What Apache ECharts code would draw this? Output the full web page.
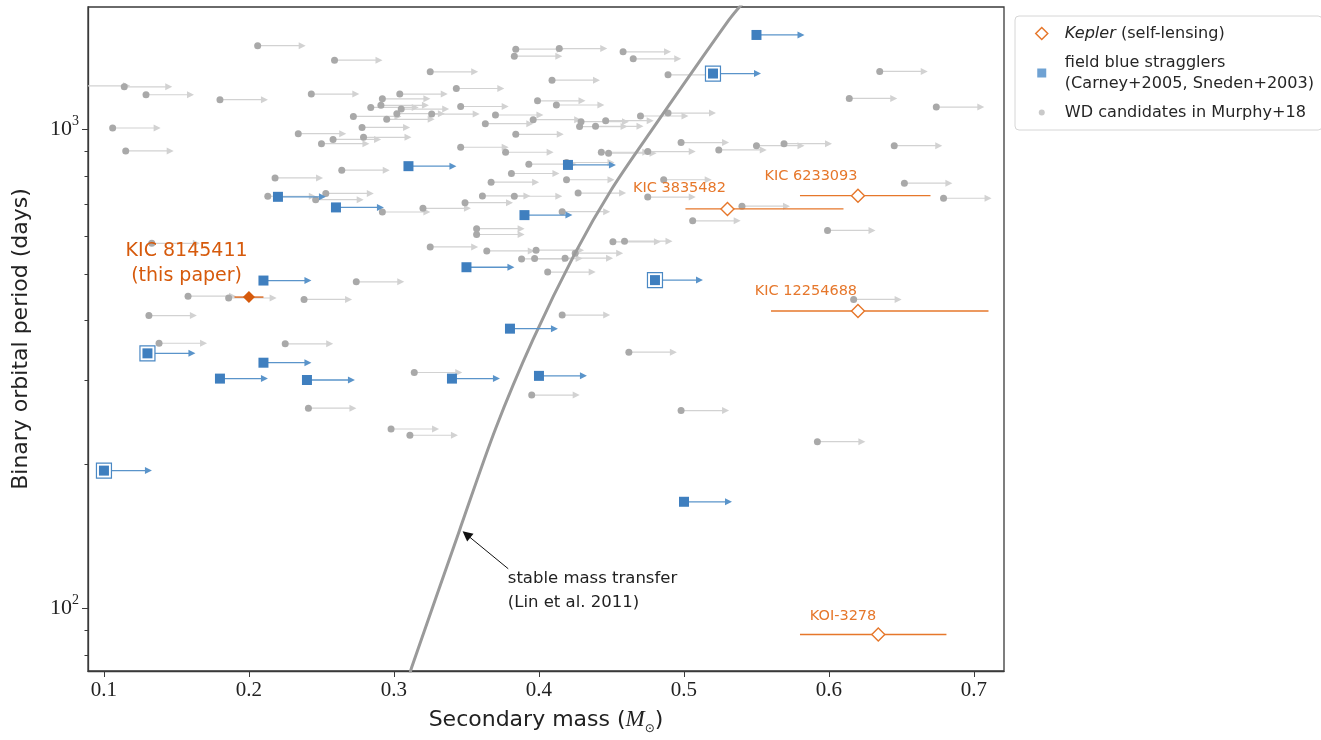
<!DOCTYPE html>
<html>
<head>
<meta charset="utf-8">
<script src="https://cdn.jsdelivr.net/npm/echarts@6/dist/echarts.min.js"></script>
<style>
html, body { margin: 0; padding: 0; background: #fff; }
#chart { width: 1321px; height: 740px; }
</style>
</head>
<body>
<div id="chart"></div>
<script>
// WD candidates in Murphy+18 (mass is a lower limit, hence the arrows)
var wdMass = [0.085, 0.106, 0.114, 0.115, 0.129, 0.131, 0.133, 0.138, 0.158, 0.180,
    0.186, 0.206, 0.213, 0.218, 0.225, 0.234, 0.238, 0.241, 0.243, 0.246,
    0.250, 0.253, 0.258, 0.259, 0.264, 0.272, 0.274, 0.278, 0.279, 0.284,
    0.291, 0.292, 0.292, 0.295, 0.298, 0.302, 0.304, 0.305, 0.311, 0.314,
    0.320, 0.325, 0.325, 0.326, 0.343, 0.346, 0.346, 0.349, 0.357, 0.357,
    0.361, 0.363, 0.364, 0.367, 0.370, 0.377, 0.381, 0.383, 0.383, 0.384,
    0.384, 0.388, 0.393, 0.395, 0.396, 0.397, 0.398, 0.399, 0.406, 0.409,
    0.412, 0.414, 0.416, 0.416, 0.418, 0.419, 0.419, 0.425, 0.427, 0.428,
    0.429, 0.439, 0.443, 0.446, 0.448, 0.451, 0.458, 0.459, 0.462, 0.465,
    0.470, 0.475, 0.475, 0.486, 0.489, 0.489, 0.498, 0.498, 0.506, 0.524,
    0.540, 0.550, 0.569, 0.592, 0.599, 0.614, 0.617, 0.635, 0.645, 0.652,
    0.674, 0.679];
var wdPeriod = [1235, 1008, 1229, 903, 1183, 409, 579, 358, 449, 1155,
    445, 1498, 726, 793, 357, 981, 442, 262, 1187, 714,
    935, 736, 954, 1397, 823, 1066, 481, 1011, 964, 1113,
    1124, 673, 1160, 1051, 237, 1080, 1187, 1104, 230, 311,
    685, 569, 1321, 1078, 1219, 1118, 919, 704, 621, 604,
    727, 1029, 558, 777, 1073, 897, 810, 1424, 726, 978,
    1473, 537, 847, 279, 1049, 538, 560, 1149, 504, 1269,
    1126, 1477, 674, 410, 539, 854, 786, 552, 737, 1015,
    1039, 1016, 897, 1044, 893, 583, 1454, 585, 343, 1406,
    1068, 723, 900, 786, 1302, 1083, 940, 259, 645, 907,
    692, 926, 935, 223, 616, 1162, 442, 1323, 926, 773,
    1115, 719];

// field blue stragglers (Carney+2005, Sneden+2003)
var bsMass = [0.55, 0.52, 0.31, 0.42, 0.22, 0.26, 0.39, 0.35, 0.21, 0.48,
    0.38, 0.13, 0.21, 0.18, 0.24, 0.34, 0.40, 0.10, 0.50];
var bsPeriod = [1577, 1310, 839, 844, 724, 688, 663, 516, 484, 485,
    384, 341, 326, 302, 300, 302, 306, 194, 167];
var bsBoxed = [0, 1, 0, 0, 0, 0, 0, 0, 0, 1, 0, 1, 0, 0, 0, 0, 0, 1, 0];

// Kepler self-lensing binaries
var kepName = ['KIC 3835482', 'KIC 6233093', 'KIC 12254688', 'KOI-3278'];
var kepMass = [0.53, 0.62, 0.62, 0.634];
var kepMassLo = [0.501, 0.580, 0.560, 0.580];
var kepMassHi = [0.610, 0.670, 0.710, 0.681];
var kepPeriod = [683, 728, 418, 88.2];

// this paper
var newName = 'KIC 8145411';
var newMass = [0.20];
var newMassLo = [0.19];
var newMassHi = [0.21];
var newPeriod = [447];

// stable mass transfer relation (Lin et al. 2011)
var linMass = [0.540, 0.531, 0.478, 0.450, 0.425, 0.396, 0.370, 0.345, 0.312, 0.311];
var linPeriod = [1830, 1695, 1000, 750, 553, 365, 237, 145, 75, 73];

var xTicks = [0.1, 0.2, 0.3, 0.4, 0.5, 0.6, 0.7];
var yMajor = [100, 1000];
var yMinor = [80, 90, 200, 300, 400, 500, 600, 700, 800, 900];

var KEP = 'Kepler (self-lensing)';
var BS = 'field blue stragglers\n(Carney+2005, Sneden+2003)';
var WD = 'WD candidates in Murphy+18';

var orange = '#e6772b';
var darkOrange = '#d65a0c';
var blue = '#3f7fbf';
var sans = 'DejaVu Sans';
var serif = 'Liberation Serif';

// text placed in data coordinates
var notes = [
    { text: 'KIC 8145411\n(this paper)', at: [0.157, 525], color: darkOrange, size: 19, lh: 25 },
    { text: kepName[0], at: [0.4969, 754], color: orange, size: 14.5, lh: 18 },
    { text: kepName[1], at: [0.5876, 798], color: orange, size: 14.5, lh: 18 },
    { text: kepName[2], at: [0.5841, 460], color: orange, size: 14.5, lh: 18 },
    { text: kepName[3], at: [0.6097, 96.2], color: orange, size: 14.5, lh: 18 },
    { text: 'stable mass transfer\n(Lin et al. 2011)', at: [0.3785, 109], color: '#222', size: 16.5, lh: 24, left: true }
];

function pairs(a, b) {
    var out = [];
    for (var i = 0; i < a.length; i++) out.push([a[i], b[i]]);
    return out;
}

function arrowRenderer(color, lw) {
    return function (params, api) {
        var p = api.coord([api.value(0), api.value(1)]);
        var cs = params.coordSys;
        var tip = p[0] + 48, hl = 7, hw = 3.5;
        if (tip < cs.x) return null;
        var x0 = Math.max(p[0], cs.x);
        return {
            type: 'group',
            children: [
                { type: 'line', shape: { x1: x0, y1: p[1], x2: tip - hl + 1, y2: p[1] },
                  style: { stroke: color, lineWidth: lw } },
                { type: 'polygon', shape: { points: [[tip, p[1]], [tip - hl, p[1] - hw], [tip - hl, p[1] + hw]] },
                  style: { fill: color } }
            ]
        };
    };
}

function errRenderer(color) {
    return function (params, api) {
        var a = api.coord([api.value(2), api.value(1)]);
        var b = api.coord([api.value(3), api.value(1)]);
        return { type: 'line', shape: { x1: a[0], y1: a[1], x2: b[0], y2: b[1] },
                 style: { stroke: color, lineWidth: 1.3 } };
    };
}

var kepData = [];
for (var i = 0; i < kepMass.length; i++) kepData.push([kepMass[i], kepPeriod[i], kepMassLo[i], kepMassHi[i]]);
var newData = [[newMass[0], newPeriod[0], newMassLo[0], newMassHi[0]]];

var boxed = [];
for (var j = 0; j < bsMass.length; j++) if (bsBoxed[j]) boxed.push([bsMass[j], bsPeriod[j]]);

var chart = echarts.init(document.getElementById('chart'));

var option = {
    animation: false,
    backgroundColor: '#fff',
    grid: { left: 88, top: 7, width: 916, height: 666, show: true, borderColor: '#3a3a3a', borderWidth: 1.3, backgroundColor: 'transparent' },
    legend: {
        orient: 'vertical',
        left: 1015, top: 16,
        padding: [7, 8, 7, 8],
        itemGap: 8,
        itemWidth: 36, itemHeight: 14,
        borderColor: '#d6d6d6', borderWidth: 1, borderRadius: 4,
        backgroundColor: 'rgba(255,255,255,0.85)',
        selectedMode: false,
        textStyle: { fontFamily: sans, fontSize: 16.1, lineHeight: 21, color: '#262626',
            rich: { i: { fontFamily: sans, fontSize: 16.1, lineHeight: 21, fontStyle: 'italic', color: '#262626' } } },
        formatter: function (name) { return name === KEP ? '{i|Kepler} (self-lensing)' : name; },
        data: [
            { name: KEP, icon: 'path://M0,0M36,14M18,1L24,7L18,13L12,7Z',
              itemStyle: { color: '#fff', borderColor: orange, borderWidth: 1.5 } },
            { name: BS, icon: 'path://M0,0M36,14M13.5,2.5H22.5V11.5H13.5Z', itemStyle: { color: '#6fa2d3' } },
            { name: WD, icon: 'path://M0,0M36,14M21,7A3,3,0,1,1,15,7A3,3,0,1,1,21,7Z', itemStyle: { color: '#c9c9c9' } }
        ]
    },
    xAxis: {
        type: 'value', min: 0.089, max: 0.7207,
        name: '{n|Secondary mass (}{m|M}{o|⊙}{n|)}',
        nameLocation: 'middle', nameGap: 34,
        nameTextStyle: { rich: {
            n: { fontFamily: sans, fontSize: 22, color: '#222' },
            m: { fontFamily: serif, fontStyle: 'italic', fontSize: 23, color: '#222' },
            o: { fontFamily: sans, fontSize: 12, color: '#222', verticalAlign: 'bottom', lineHeight: 30 }
        } },
        splitLine: { show: false },
        axisLine: { show: true, lineStyle: { color: '#3a3a3a', width: 1.3 } },
        axisTick: { show: true, customValues: xTicks, length: 6, lineStyle: { color: '#3a3a3a' } },
        axisLabel: { customValues: xTicks, fontFamily: serif, fontSize: 21, color: '#222', margin: 9,
            formatter: function (v) { return v.toFixed(1); } }
    },
    yAxis: [{
        type: 'log', logBase: 10, min: 74, max: 1804,
        name: 'Binary orbital period (days)',
        nameLocation: 'middle', nameGap: 56,
        nameTextStyle: { fontFamily: sans, fontSize: 22, color: '#222' },
        splitLine: { show: false },
        axisLine: { show: true, lineStyle: { color: '#3a3a3a', width: 1.3 } },
        axisTick: { show: true, customValues: yMajor, length: 6, lineStyle: { color: '#3a3a3a' } },
        axisLabel: { customValues: yMajor, margin: 9,
            formatter: function (v) { return '{b|10}{s|' + Math.round(Math.log10(v)) + '}'; },
            rich: {
                b: { fontFamily: serif, fontSize: 22, lineHeight: 30, color: '#222' },
                s: { fontFamily: serif, fontSize: 14, lineHeight: 14, color: '#222', verticalAlign: 'top' }
            } }
    }, {
        type: 'log', logBase: 10, min: 74, max: 1804, position: 'left',
        splitLine: { show: false },
        axisLine: { show: false },
        axisLabel: { show: false },
        axisTick: { show: true, customValues: yMinor, length: 3.5, lineStyle: { color: '#3a3a3a' } }
    }],
    series: [
        { type: 'custom', name: 'wd-arrows', z: 1, renderItem: arrowRenderer('#d2d2d2', 1.2),
          data: pairs(wdMass, wdPeriod), silent: true },
        { type: 'scatter', name: WD, z: 2, symbol: 'circle', symbolSize: 7,
          itemStyle: { color: '#a9a9a9', opacity: 1 }, data: pairs(wdMass, wdPeriod) },
        { type: 'line', name: 'lin', z: 3, showSymbol: false, smooth: 0.3,
          lineStyle: { color: '#9a9a9a', width: 3 }, data: pairs(linMass, linPeriod),
          markLine: { silent: true, symbol: ['none', 'triangle'], symbolSize: 10,
              label: { show: false },
              lineStyle: { color: '#111', width: 1, type: 'solid' },
              data: [[{ coord: [0.3788, 121] }, { coord: [0.3500, 142.7] }]] } },
        { type: 'custom', name: 'bs-arrows', z: 4, renderItem: arrowRenderer('#5a94ca', 1.3),
          data: pairs(bsMass, bsPeriod), silent: true },
        { type: 'scatter', name: 'bs-box', z: 5, symbol: 'rect', symbolSize: 15,
          itemStyle: { color: '#fff', borderColor: '#4a88c4', borderWidth: 1.2, opacity: 1 }, data: boxed },
        { type: 'scatter', name: BS, z: 6, symbol: 'rect', symbolSize: 10,
          itemStyle: { color: blue, opacity: 1 }, data: pairs(bsMass, bsPeriod) },
        { type: 'custom', name: 'kep-err', z: 7, renderItem: errRenderer(orange), data: kepData, silent: true },
        { type: 'scatter', name: KEP, z: 8, symbol: 'diamond', symbolSize: 13,
          itemStyle: { color: '#fff', borderColor: orange, borderWidth: 1.4, opacity: 1 }, data: kepData },
        { type: 'custom', name: 'new-err', z: 7, renderItem: errRenderer(darkOrange), data: newData, silent: true },
        { type: 'scatter', name: newName, z: 8, symbol: 'diamond', symbolSize: 12,
          itemStyle: { color: darkOrange, opacity: 1 }, data: newData },
        { type: 'custom', name: 'notes', z: 9, silent: true,
          data: notes.map(function (n) { return n.at; }),
          renderItem: function (params, api) {
              var n = notes[params.dataIndex];
              var p = api.coord([api.value(0), api.value(1)]);
              return { type: 'text', x: p[0], y: p[1],
                  style: { text: n.text, fill: n.color, fontFamily: sans, fontSize: n.size, lineHeight: n.lh,
                      align: n.left ? 'left' : 'center', verticalAlign: 'middle' } };
          } }
    ]
};

chart.setOption(option);
</script>
</body>
</html>
